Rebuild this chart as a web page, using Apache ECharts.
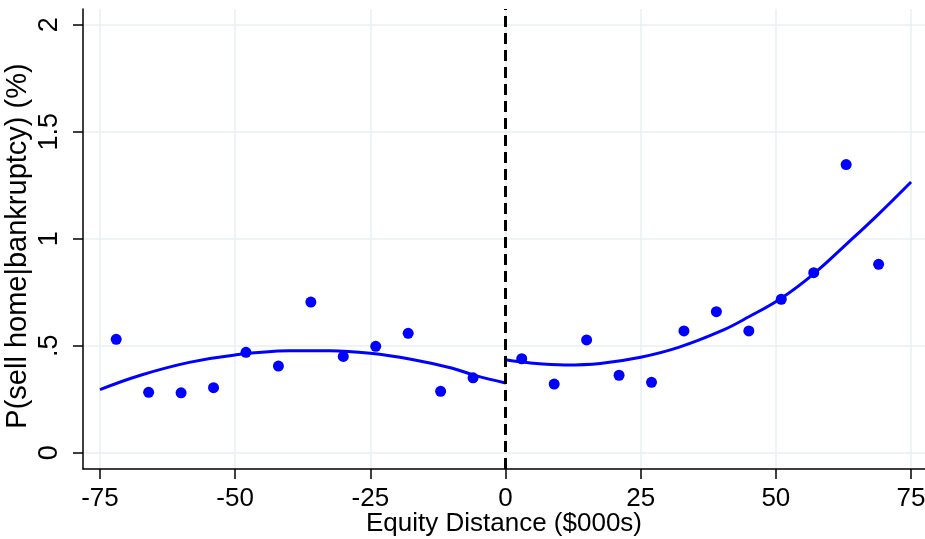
<!DOCTYPE html>
<html>
<head>
<meta charset="utf-8">
<script src="https://cdn.jsdelivr.net/npm/echarts@6/dist/echarts.min.js"></script>
<style>
html,body{margin:0;padding:0;background:#fff;}
#chart{width:925px;height:539px;}
</style>
</head>
<body>
<div id="chart"></div>
<script>
// Binned scatter points
const binX = [-72,-66,-60,-54,-48,-42,-36,-30,-24,-18,-12,-6,3,9,15,21,27,33,39,45,51,57,63,69];
const binY = [0.530,0.282,0.280,0.304,0.469,0.405,0.704,0.450,0.497,0.558,0.287,0.350,0.439,0.321,0.527,0.362,0.329,0.569,0.659,0.569,0.717,0.841,1.346,0.880];
// Fitted curve, left of cutoff
const leftFitX = [-75,-67.5,-58.5,-50,-40,-32.5,-25,-17.5,-10,-5.5,0];
const leftFitY = [0.295,0.362,0.422,0.457,0.476,0.477,0.465,0.437,0.396,0.360,0.326];
// Fitted curve, right of cutoff
const rightFitX = [0,5,11,17.5,25,32,40,45,51,57,63.5,69,75];
const rightFitY = [0.434,0.418,0.410,0.417,0.446,0.492,0.570,0.635,0.722,0.836,0.985,1.115,1.265];
// Axis ticks
const xTicks = [-75,-50,-25,0,25,50,75];
const yTicks = [0,0.5,1,1.5,2];
const yTickLabels = ['0','.5','1','1.5','2'];
const cutoff = 0;

const pair = (xs, ys) => xs.map((x, i) => [x, ys[i]]);
const font = '"Liberation Sans", Arial, Helvetica, sans-serif';

const chart = echarts.init(document.getElementById('chart'), null, {renderer: 'canvas'});
chart.setOption({
  backgroundColor: '#ffffff',
  animation: false,
  grid: {left: 83, top: 9, right: 0, bottom: 70, containLabel: false, outerBoundsMode: 'none'},
  xAxis: {
    type: 'value',
    min: -78.14, max: 77.58,
    name: 'Equity Distance ($000s)',
    nameLocation: 'middle',
    nameMoveOverlap: false,
    nameGap: 42,
    nameTextStyle: {fontFamily: font, fontSize: 26, color: '#000'},
    axisLine: {show: true, onZero: false, lineStyle: {color: '#000', width: 1.5}},
    axisTick: {show: true, length: 10, customValues: xTicks, lineStyle: {color: '#000', width: 1.5}},
    axisLabel: {customValues: xTicks, margin: 17, fontFamily: font, fontSize: 26, color: '#000',
      formatter: v => String(v)},
    splitLine: {show: true, lineStyle: {color: '#e8f0f2', width: 1.5}}
  },
  yAxis: {
    type: 'value',
    min: -0.076, max: 2.073,
    name: 'P(sell home|bankruptcy) (%)',
    nameLocation: 'middle',
    nameMoveOverlap: false,
    nameGap: 51,
    nameRotate: 90,
    nameTextStyle: {fontFamily: font, fontSize: 29, color: '#000', padding: [0, 14, 0, 0]},
    axisLine: {show: true, onZero: false, lineStyle: {color: '#000', width: 1.5}},
    axisTick: {show: true, length: 10, customValues: yTicks, lineStyle: {color: '#000', width: 1.5}},
    axisLabel: {customValues: yTicks, rotate: 90, margin: 20, fontFamily: font, fontSize: 27, color: '#000',
      formatter: v => { const i = yTicks.findIndex(t => Math.abs(t - v) < 1e-9); return i >= 0 ? yTickLabels[i] : ''; }},
    splitLine: {show: true, lineStyle: {color: '#e8f0f2', width: 1.5}}
  },
  series: [
    {
      type: 'line', data: pair(leftFitX, leftFitY), smooth: 0.4, showSymbol: false,
      lineStyle: {color: '#0000ff', width: 3}, z: 3,
      markLine: {
        silent: true, symbol: ['none','none'], label: {show: false},
        lineStyle: {color: '#000', width: 3, type: [11, 6]},
        data: [{xAxis: cutoff}]
      }
    },
    {
      type: 'line', data: pair(rightFitX, rightFitY), smooth: 0.4, showSymbol: false,
      lineStyle: {color: '#0000ff', width: 3}, z: 3
    },
    {
      type: 'scatter', data: pair(binX, binY), symbol: 'circle', symbolSize: 11,
      itemStyle: {color: '#0000ff', opacity: 1}, z: 4
    }
  ]
});
</script>
</body>
</html>
